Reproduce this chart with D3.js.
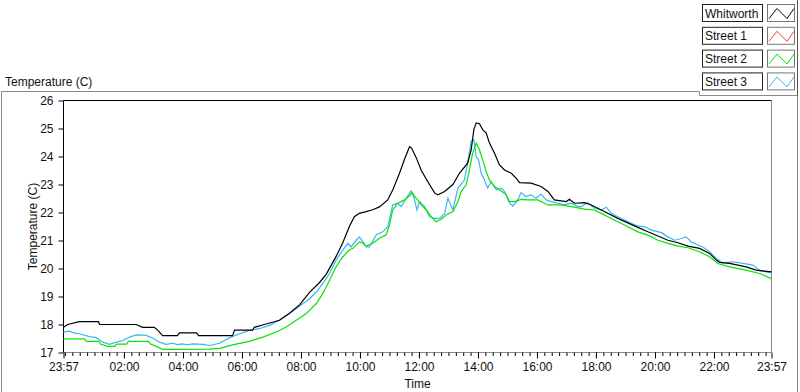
<!DOCTYPE html>
<html>
<head>
<meta charset="utf-8">
<script src="https://cdn.jsdelivr.net/npm/d3@7"></script>
<style>
  body { margin: 0; background: #fff; }
  svg { display: block; font-family: "Liberation Sans", Arial, sans-serif; }
  text { font-size: 12px; fill: #111; }
</style>
</head>
<body>
<script>
// series names and colours (legend order)
var seriesNames = ["Whitworth", "Street 1", "Street 2", "Street 3"];
var seriesColors = ["#000000", "#ff3b3b", "#00e600", "#3db5f0"];

// time in hours of the day (-0.05 = 23:57 the evening before), temperature in C
var whitworthHours = [-0.05,0.09,0.49,1.14,1.17,2.42,2.63,3.03,3.14,3.31,3.81,3.88,4.46,4.53,5.68,5.75,6.36,6.42,6.76,7.27,7.61,7.95,8.29,8.63,8.86,9.07,9.2,9.41,9.64,9.81,9.98,10.21,10.43,10.66,10.94,11.11,11.34,11.51,11.68,11.75,11.91,12.08,12.3,12.53,12.64,12.87,13.15,13.37,13.65,13.77,13.86,13.94,14.05,14.16,14.28,14.39,14.56,14.73,14.9,15.13,15.3,15.41,15.8,16.14,16.37,16.59,16.99,17.1,17.27,17.61,17.84,18.18,18.4,18.74,19.08,19.42,19.76,20.1,20.44,20.78,21.12,21.51,21.85,22.08,22.19,22.53,23.09,23.43,23.95];
var whitworthTemp = [17.9,18.0,18.1,18.1,18.0,18.0,17.9,17.9,17.8,17.6,17.6,17.7,17.7,17.6,17.6,17.8,17.8,17.9,18.0,18.15,18.4,18.7,19.15,19.5,19.8,20.2,20.45,20.9,21.5,21.85,21.97,22.03,22.1,22.2,22.45,22.8,23.4,23.9,24.35,24.3,23.95,23.5,23.1,22.7,22.63,22.75,23.0,23.4,23.76,24.24,24.96,25.2,25.17,24.96,24.84,24.48,24.12,23.7,23.52,23.4,23.22,23.07,23.05,22.93,22.75,22.45,22.39,22.47,22.33,22.35,22.27,22.09,21.97,21.79,21.63,21.47,21.31,21.16,21.01,20.92,20.8,20.72,20.54,20.3,20.22,20.18,20.06,19.94,19.88];

// Street 1 is not visible in the graph
var street1Hours = [];
var street1Temp = [];

var street2Hours = [-0.05,0.66,0.73,1.14,1.2,1.44,1.68,1.75,2.09,2.15,2.83,2.9,3.1,3.31,4.9,5.24,5.68,6.25,6.71,7.16,7.5,7.84,8.18,8.52,8.74,8.97,9.19,9.42,9.64,9.76,9.98,10.1,10.21,10.43,10.66,10.89,11.0,11.11,11.28,11.51,11.68,11.77,11.85,11.96,12.08,12.25,12.41,12.58,12.75,12.92,13.15,13.32,13.43,13.6,13.71,13.82,13.94,14.05,14.16,14.28,14.39,14.56,14.73,14.96,15.07,15.24,15.46,15.68,16.03,16.37,16.82,17.16,17.61,17.95,18.18,18.4,18.74,19.08,19.42,19.76,20.1,20.44,20.78,21.12,21.51,21.85,22.13,22.53,23.09,23.54,23.95];
var street2Temp = [17.49,17.49,17.4,17.4,17.3,17.22,17.22,17.3,17.3,17.4,17.4,17.3,17.22,17.11,17.12,17.15,17.27,17.4,17.55,17.73,17.91,18.15,18.39,18.75,19.1,19.58,20.06,20.42,20.66,20.72,20.95,20.9,20.8,20.9,21.08,21.2,21.55,22.09,22.33,22.45,22.6,22.71,22.57,22.45,22.27,22.09,21.85,21.67,21.76,21.91,22.03,22.38,22.75,22.99,23.52,24.12,24.48,24.24,23.88,23.46,23.16,22.93,22.81,22.63,22.39,22.39,22.47,22.45,22.45,22.27,22.27,22.21,22.12,22.09,21.97,21.85,21.67,21.49,21.31,21.19,21.01,20.9,20.8,20.74,20.6,20.42,20.18,20.06,19.94,19.82,19.64];

var street3Hours = [-0.05,0.15,0.32,0.49,0.83,1.06,1.28,1.51,1.74,1.96,2.19,2.41,2.75,2.98,3.2,3.43,3.66,3.81,3.99,4.15,4.33,4.67,4.9,5.24,5.58,5.92,6.25,6.59,6.93,7.27,7.61,7.95,8.29,8.52,8.74,8.97,9.19,9.42,9.59,9.7,9.87,9.98,10.1,10.21,10.32,10.55,10.77,10.94,11.11,11.28,11.4,11.57,11.68,11.74,11.85,11.93,12.02,12.19,12.36,12.53,12.7,12.87,12.98,13.15,13.32,13.37,13.54,13.65,13.77,13.86,13.94,14.02,14.11,14.22,14.33,14.45,14.62,14.79,14.9,15.07,15.18,15.35,15.46,15.63,15.8,15.97,16.14,16.31,16.48,16.71,16.93,17.16,17.38,17.5,17.72,17.95,18.18,18.35,18.52,18.74,18.97,19.2,19.42,19.65,19.88,20.22,20.44,20.67,20.89,21.06,21.23,21.45,21.62,21.85,22.08,22.3,22.64,22.98,23.32,23.54,23.77,23.95];
var street3Temp = [17.73,17.76,17.69,17.67,17.57,17.53,17.37,17.29,17.37,17.43,17.55,17.63,17.61,17.51,17.37,17.29,17.33,17.28,17.31,17.27,17.31,17.29,17.25,17.33,17.53,17.67,17.79,17.85,17.97,18.15,18.39,18.65,18.92,19.16,19.46,19.82,20.3,20.66,20.9,20.77,21.01,21.13,20.95,20.77,20.77,21.2,21.31,21.49,22.27,22.33,22.21,22.51,22.69,22.77,22.45,22.09,22.39,22.21,21.85,21.79,21.79,21.97,22.51,22.09,22.87,22.93,23.16,23.76,24.54,24.6,24.0,23.88,23.4,23.16,22.87,23.1,22.81,22.87,22.75,22.33,22.23,22.45,22.71,22.57,22.63,22.51,22.66,22.45,22.39,22.33,22.27,22.33,22.21,22.21,22.35,22.15,22.09,22.19,21.97,21.85,21.73,21.61,21.52,21.49,21.37,21.28,21.13,21.01,21.07,21.13,20.95,20.84,20.77,20.6,20.36,20.2,20.24,20.18,20.12,19.94,19.88,19.84];

var yTicks = [17, 18, 19, 20, 21, 22, 23, 24, 25, 26];
var xMajorTicks = [-0.05, 2, 4, 6, 8, 10, 12, 14, 16, 18, 20, 22, 23.95];

var width = 800, height = 392;
var plotLeft = 63.5, plotRight = 771.5, plotTop = 100.5, plotBottom = 352.5;

var svg = d3.select("body").append("svg")
  .attr("width", width)
  .attr("height", height);

var x = d3.scaleLinear().domain([-0.05, 23.95]).range([plotLeft, plotRight]);
var y = d3.scaleLinear().domain([17, 26]).range([plotBottom, plotTop]);

// outer frame
svg.append("path")
  .attr("d", "M1.5,392V91.5H699.5V95.5H797.5V392")
  .style("fill", "none")
  .style("stroke", "#8a8a8a");
svg.append("line")
  .attr("x1", 797.5).attr("x2", 797.5).attr("y1", 0).attr("y2", 96)
  .style("stroke", "#555");

svg.append("text")
  .attr("x", 5).attr("y", 86)
  .text("Temperature (C)");

// plot border
svg.append("path")
  .attr("d", "M" + plotLeft + "," + plotBottom + "V" + plotTop + "H" + plotRight)
  .style("fill", "none").style("stroke", "#000");
svg.append("path")
  .attr("d", "M" + plotRight + "," + plotTop + "V" + plotBottom + "H" + plotLeft)
  .style("fill", "none").style("stroke", "#8a8a8a");

// y axis
var yAxis = svg.append("g")
  .attr("transform", "translate(" + plotLeft + ",0)")
  .call(d3.axisLeft(y).tickValues(yTicks).tickSize(5).tickPadding(5).tickSizeOuter(0));
yAxis.select(".domain").remove();
yAxis.selectAll("text").style("font-size", "12px").style("font-family", "Liberation Sans, Arial, sans-serif").style("fill", "#111");

// x axis: minor ticks every 15 min, major ticks every 2 h
var minorTicks = d3.range(0, 96).map(function(i) { return i / 4; });
var xMinor = svg.append("g")
  .attr("transform", "translate(0," + plotBottom + ")")
  .call(d3.axisBottom(x).tickValues(minorTicks).tickSize(3.5).tickFormat(""));
xMinor.select(".domain").remove();

var fmt = function(h) {
  if (h < 0 || h > 23.9) return "23:57";
  return d3.format("02d")(h) + ":00";
};
var xAxis = svg.append("g")
  .attr("transform", "translate(0," + plotBottom + ")")
  .call(d3.axisBottom(x).tickValues(xMajorTicks).tickSize(6).tickPadding(4).tickFormat(fmt));
xAxis.select(".domain").remove();
xAxis.selectAll("text").style("font-size", "12px").style("font-family", "Liberation Sans, Arial, sans-serif").style("fill", "#111");

svg.append("text")
  .attr("x", (plotLeft + plotRight) / 2).attr("y", 388)
  .attr("text-anchor", "middle")
  .text("Time");

svg.append("text")
  .attr("transform", "translate(37," + ((plotTop + plotBottom) / 2) + ") rotate(-90)")
  .attr("text-anchor", "middle")
  .text("Temperature (C)");

// lines
var seriesData = [
  d3.zip(whitworthHours, whitworthTemp),
  d3.zip(street1Hours, street1Temp),
  d3.zip(street2Hours, street2Temp),
  d3.zip(street3Hours, street3Temp)
];

var line = d3.line()
  .x(function(d) { return x(d[0]); })
  .y(function(d) { return y(d[1]); });

var plot = svg.append("g");
[3, 2, 1, 0].forEach(function(i) {
  if (!seriesData[i].length) return;
  plot.append("path")
    .datum(seriesData[i])
    .attr("d", line)
    .style("fill", "none")
    .style("stroke", seriesColors[i])
    .style("stroke-width", 1.2);
});

// legend
var legend = svg.append("g");
seriesNames.forEach(function(name, i) {
  var ty = 4.5 + i * 22.8;
  var g = legend.append("g").attr("transform", "translate(0," + ty + ")");
  g.append("rect")
    .attr("x", 702.5).attr("y", 0).attr("width", 60).attr("height", 17)
    .style("fill", "#fff").style("stroke", "#222");
  g.append("text")
    .attr("x", 705).attr("y", 13)
    .text(name);
  g.append("rect")
    .attr("x", 767.5).attr("y", 0).attr("width", 27).attr("height", 17)
    .style("fill", "#fff").style("stroke", "#777");
  g.append("path")
    .attr("d", "M769,14L777,4L787,14L794,4")
    .style("fill", "none")
    .style("stroke", seriesColors[i]);
});
</script>
</body>
</html>
